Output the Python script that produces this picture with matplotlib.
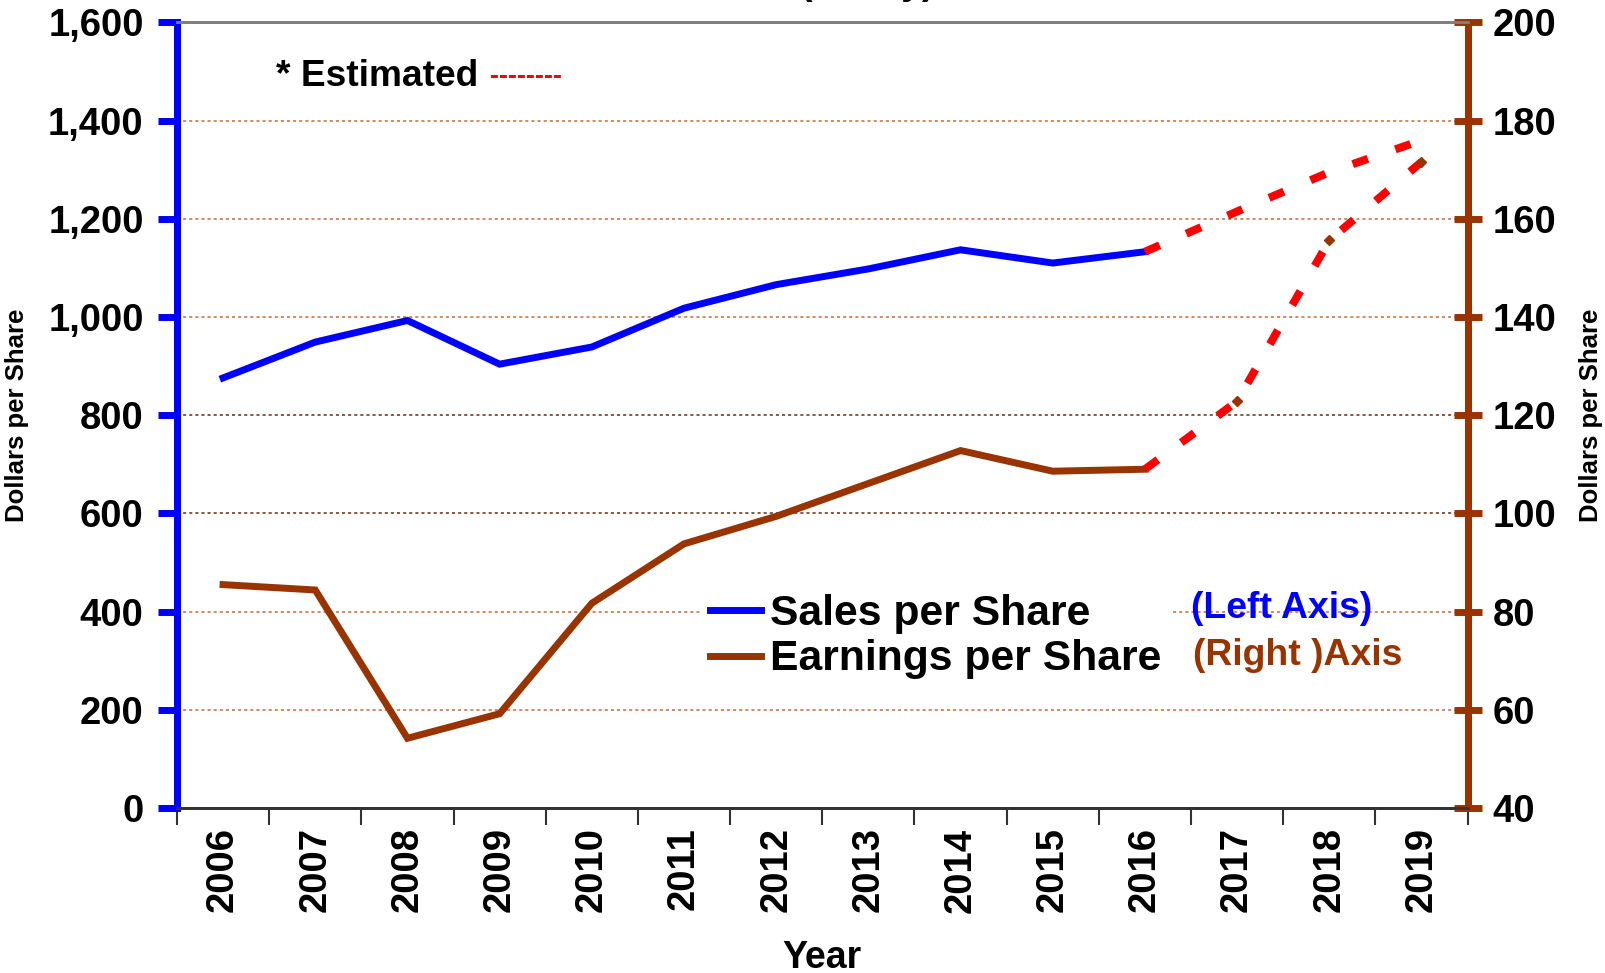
import matplotlib.pyplot as plt
from matplotlib.lines import Line2D

plt.rcParams['font.family'] = ['Liberation Sans', 'DejaVu Sans']
plt.rcParams['font.weight'] = 'bold'

# Data
years = ['2006', '2007', '2008', '2009', '2010', '2011', '2012',
         '2013', '2014', '2015', '2016', '2017', '2018', '2019']
sales = [876, 949, 993, 904, 939, 1018, 1066, 1098, 1137, 1110, 1133]
sales_est = [1133, 1215, 1295, 1360]
earnings = [85.5, 84.4, 54.2, 59.2, 81.7, 93.8, 99.4, 106.1, 112.8, 108.6, 109.0]
earnings_est = [109.0, 122.8, 155.6, 171.6]

blue = '#0000FF'
brown = '#993300'
red = '#FF0000'

fig = plt.figure(figsize=(16.06, 9.73), dpi=100)
ax = fig.add_axes([0.1102, 0.1696, 0.8036, 0.8073])
ax2 = ax.twinx()

x = list(range(len(years)))
n_act = len(sales)
x_act = x[:n_act]
x_est = x[n_act - 1:]

# gridlines (aligned for both axes)
for v in range(200, 1600, 200):
    c = '#6b2a0a' if v in (600, 800) else '#c46a3c'
    ax.axhline(v, color=c, linestyle=(0, (2, 2)), linewidth=1.1, zorder=0)

ax.plot(x_act, sales, color=blue, linewidth=5, solid_joinstyle='miter',
        label='Sales per Share', zorder=3)
ax.plot(x_est, sales_est, color=red, linewidth=5.8, dashes=(2, 3.6),
        dash_capstyle='butt', zorder=3)

ax2.plot(x_act, earnings, color=brown, linewidth=5, solid_joinstyle='miter',
         label='Earnings per Share', zorder=3)
ax2.plot(x_est, earnings_est, color=red, linewidth=5.8, dashes=(2, 3.6),
         dash_capstyle='butt', zorder=3)
ax2.plot(x_est[1:], earnings_est[1:], linestyle='none', marker='D',
         markersize=5, color=brown, zorder=4)

# x axis
ax.set_xlim(-0.5, len(years) - 0.5)
ax.set_xticks(x)
ax.set_xticklabels(years, rotation=90, fontsize=27.5, fontweight='bold')
ax.set_xticks([i - 0.5 for i in range(len(years) + 1)], minor=True)
ax.tick_params(axis='x', which='major', length=0, pad=14)
ax.tick_params(axis='x', which='minor', length=12, width=1.5, color='#333333',
               direction='out')
ax.set_xlabel('Year', fontsize=27, fontweight='bold', labelpad=20)

# left axis
ax.set_ylim(0, 1600)
ax.set_yticks(range(0, 1601, 200))
ax.set_yticklabels([f'{v:,}' for v in range(0, 1601, 200)], fontsize=27.5,
                   fontweight='bold')
ax.tick_params(axis='y', length=14, width=5, color=blue, direction='out', pad=10)
ax.set_ylabel('Dollars per Share', fontsize=18.5, fontweight='bold', labelpad=14)

# right axis
ax2.set_ylim(40, 200)
ax2.set_yticks(range(40, 201, 20))
ax2.set_yticklabels([str(v) for v in range(40, 201, 20)], fontsize=27.5,
                    fontweight='bold')
ax2.tick_params(axis='y', length=20, width=5, color=brown, direction='inout',
                pad=8)
ax2.set_ylabel('Dollars per Share', fontsize=18.5, fontweight='bold',
               rotation=90, labelpad=16)

for a in (ax, ax2):
    a.spines['left'].set_color(blue)
    a.spines['left'].set_linewidth(5)
    a.spines['right'].set_color(brown)
    a.spines['right'].set_linewidth(5)
    a.spines['top'].set_color('#808080')
    a.spines['top'].set_linewidth(2)
    a.spines['bottom'].set_color('#333333')
    a.spines['bottom'].set_linewidth(2)

# legend
handles = [Line2D([], [], color=blue, linewidth=5),
           Line2D([], [], color=brown, linewidth=5)]
leg = ax2.legend(handles, ['Sales per Share', 'Earnings per Share'],
                 loc='upper left', bbox_to_anchor=(0.39, 0.31),
                 fontsize=30.7, frameon=True, handlelength=1.2,
                 handletextpad=0.2, labelspacing=0.12, borderpad=0.2)
leg.get_frame().set_facecolor('white')
leg.get_frame().set_edgecolor('none')
leg.get_frame().set_alpha(1)
for t in leg.get_texts():
    t.set_fontweight('bold')

fig.text(0.7417, 0.375, '(Left Axis)', color=blue, fontsize=26.9,
         fontweight='bold', va='center')
fig.text(0.743, 0.3263, '(Right )Axis', color=brown, fontsize=26.9,
         fontweight='bold', va='center')

fig.text(0.172, 0.921, '* Estimated', color='black', fontsize=26.7,
         fontweight='bold', va='center')
fig.text(0.3048, 0.921, '--------', color=red, fontsize=19.5,
         fontweight='bold', va='center')

# title, mostly above the visible area
fig.text(0.54, 1.006, '(Yearly)', color='black', fontsize=27,
         fontweight='bold', ha='center', va='baseline')

fig.savefig('out.png', dpi=100)
